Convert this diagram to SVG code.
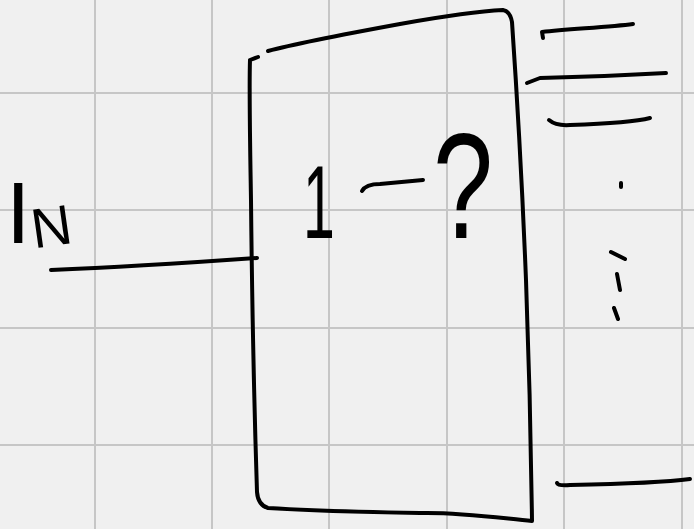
<svg xmlns="http://www.w3.org/2000/svg" width="694" height="529" viewBox="0 0 694 529">
  <style>
    .grid { stroke: #c6c6c6; stroke-width: 2; fill: none; }
    .ink { stroke: #000; stroke-width: 4; fill: none; stroke-linecap: round; stroke-linejoin: round; }
    .hand { font-family: "Liberation Sans", "DejaVu Sans", sans-serif; fill: #000; }
  </style>
  <rect width="694" height="529" fill="#f0f0f0"/>
  <g id="grid" class="grid">
    <line x1="95" y1="0" x2="95" y2="529"/>
    <line x1="212" y1="0" x2="212" y2="529"/>
    <line x1="329" y1="0" x2="329" y2="529"/>
    <line x1="447" y1="0" x2="447" y2="529"/>
    <line x1="564" y1="0" x2="564" y2="529"/>
    <line x1="682" y1="0" x2="682" y2="529"/>
    <line x1="0" y1="93" x2="694" y2="93"/>
    <line x1="0" y1="210" x2="694" y2="210"/>
    <line x1="0" y1="328" x2="694" y2="328"/>
    <line x1="0" y1="445" x2="694" y2="445"/>
  </g>
  <g id="input-label">
    <text class="hand" x="6" y="243" font-size="88" font-weight="300">I</text>
    <text class="hand" x="31" y="246" font-size="56" transform="rotate(-8 50 225)">N</text>
  </g>
  <g id="box">
    <path class="ink" d="M250 60 L258 57 M268 51 C290 45 340 35 400 24 C450 15 480 11 503 10 Q510 11 512 22 C516 80 522 180 526 280 C529 360 531 440 532 521 C500 518 460 512 420 513 C360 512 300 510 268 508 Q258 505 257 492 C254 400 252 300 251 200 C250 140 249 90 250 60"/>
    <text class="hand" font-size="104" transform="translate(303 238) scale(0.55 1)">1</text>
    <path class="ink" d="M362 191 Q366 184 380 184 L423 180"/>
    <text class="hand" font-size="150" font-weight="300" transform="translate(433 238) scale(0.72 1)">?</text>
  </g>
  <g id="connectors">
    <path class="ink" d="M51 270 C100 268 200 262 257 258"/>
    <path class="ink" d="M543 38 L542 32 C570 29 610 27 633 24"/>
    <path class="ink" d="M527 83 L540 78 C580 77 630 75 666 73"/>
    <path class="ink" d="M549 120 Q556 126 570 125 C600 124 635 122 650 118"/>
    <path class="ink" d="M621 183 L621 187"/>
    <path class="ink" d="M611 252 L625 259 M617 274 L620 290 M614 308 L618 319"/>
    <path class="ink" d="M557 483 Q558 486 570 485 C620 484 660 483 690 479"/>
  </g>
</svg>
